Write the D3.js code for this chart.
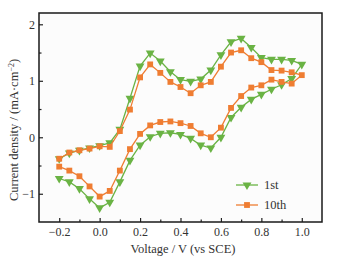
<!DOCTYPE html>
<html>
<head>
<meta charset="utf-8">
<script src="https://cdn.jsdelivr.net/npm/d3@7"></script>
<style>
  body { margin: 0; background: #fff; }
  text { font-family: "Liberation Serif", "DejaVu Serif", serif; }
</style>
</head>
<body>
<svg id="canvas"></svg>
<script>
// scan potentials: forward -0.2 -> 1.0, then back 0.95 -> -0.2
const voltage = [-0.2, -0.15, -0.1, -0.05, 0, 0.05, 0.1, 0.15, 0.2, 0.25, 0.3, 0.35, 0.4, 0.45, 0.5, 0.55, 0.6, 0.65, 0.7, 0.75, 0.8, 0.85, 0.9, 0.95, 1.0,
                 0.95, 0.9, 0.85, 0.8, 0.75, 0.7, 0.65, 0.6, 0.55, 0.5, 0.45, 0.4, 0.35, 0.3, 0.25, 0.2, 0.15, 0.1, 0.05, 0, -0.05, -0.1, -0.15, -0.2];

const first = [-0.38, -0.28, -0.23, -0.19, -0.15, -0.1, 0.14, 0.69, 1.26, 1.49, 1.35, 1.16, 1.02, 0.99, 1.03, 1.19, 1.46, 1.69, 1.75, 1.59, 1.41, 1.38, 1.38, 1.36, 1.29,
               1.04, 0.93, 0.85, 0.76, 0.67, 0.53, 0.35, 0.0, -0.19, -0.14, -0.02, 0.05, 0.08, 0.07, 0.01, -0.14, -0.41, -0.79, -1.15, -1.25, -1.09, -0.91, -0.79, -0.73];

const tenth = [-0.38, -0.27, -0.23, -0.2, -0.16, -0.17, 0.11, 0.49, 1.06, 1.29, 1.14, 0.98, 0.89, 0.78, 0.92, 0.98, 1.25, 1.5, 1.54, 1.4, 1.33, 1.19, 1.18, 1.15, 1.1,
               0.95, 0.98, 1.02, 0.92, 0.88, 0.73, 0.52, 0.17, 0.0, 0.07, 0.2, 0.25, 0.28, 0.27, 0.21, 0.06, -0.21, -0.59, -0.95, -1.05, -0.87, -0.69, -0.59, -0.52];

const xTicks = [-0.2, 0.0, 0.2, 0.4, 0.6, 0.8, 1.0];
const yTicks = [-1, 0, 1, 2];

const series = [
    { name: "1st", values: first, color: "#6ab344", symbol: "tri" },
    { name: "10th", values: tenth, color: "#ef7d32", symbol: "sq" }
];

const width = 341;
const height = 265;
const margin = { left: 39, right: 19, top: 13, bottom: 43 };

const canvas = d3.select("#canvas")
    .attr("width", width)
    .attr("height", height);

const xScale = d3.scaleLinear()
    .domain([-0.3, 1.1])
    .range([margin.left, width - margin.right]);
const yScale = d3.scaleLinear()
    .domain([-1.5, 2.2])
    .range([height - margin.bottom, margin.top]);

const x0 = margin.left, x1 = width - margin.right;
const y0 = height - margin.bottom, y1 = margin.top;

// plot background
canvas.append("rect")
    .attr("x", x0).attr("y", y1)
    .attr("width", x1 - x0).attr("height", y0 - y1)
    .attr("fill", "#fcfcfc");

// ticks inward
const xAxis = d3.axisTop(xScale)
    .tickValues(xTicks)
    .tickSize(4)
    .tickFormat(d3.format(".1f"));
const xMinor = d3.axisTop(xScale)
    .tickValues([-0.1, 0.1, 0.3, 0.5, 0.7, 0.9])
    .tickSize(2.5)
    .tickFormat("");
const yAxis = d3.axisRight(yScale)
    .tickValues(yTicks)
    .tickSize(4)
    .tickFormat(d3.format("d"));
const yMinor = d3.axisRight(yScale)
    .tickValues([-0.5, 0.5, 1.5])
    .tickSize(2.5)
    .tickFormat("");

function styleAxis(g) {
    g.select(".domain").remove();
    g.selectAll(".tick line").attr("stroke", "#222").attr("stroke-width", 1.2);
}

canvas.append("g").attr("transform", `translate(0, ${y0})`).call(xAxis).call(styleAxis)
    .selectAll("text")
    .attr("y", 5).attr("dy", "0.71em")
    .attr("font-size", 12).attr("fill", "#333");
canvas.append("g").attr("transform", `translate(0, ${y0})`).call(xMinor).call(styleAxis);
canvas.append("g").attr("transform", `translate(${x0}, 0)`).call(yAxis).call(styleAxis)
    .selectAll("text")
    .attr("x", -4).attr("text-anchor", "end")
    .attr("font-size", 12).attr("fill", "#333");
canvas.append("g").attr("transform", `translate(${x0}, 0)`).call(yMinor).call(styleAxis);

// frame
canvas.append("rect")
    .attr("x", x0).attr("y", y1)
    .attr("width", x1 - x0).attr("height", y0 - y1)
    .attr("fill", "none")
    .attr("stroke", "#1a1a1a")
    .attr("stroke-width", 1.5);

const line = d3.line()
    .x((d, i) => xScale(voltage[i]))
    .y(d => yScale(d));

const tri = d3.symbol().type(d3.symbolTriangle).size(34);
const sq = d3.symbol().type(d3.symbolSquare).size(34);

series.forEach(s => {
    canvas.append("path")
        .datum(s.values)
        .attr("d", line)
        .attr("fill", "none")
        .attr("stroke", s.color)
        .attr("stroke-width", 1.3);

    canvas.append("g")
        .selectAll("path")
        .data(s.values)
        .enter()
        .append("path")
        .attr("transform", (d, i) => `translate(${xScale(voltage[i])}, ${yScale(d)})` + (s.symbol === "tri" ? " rotate(180)" : ""))
        .attr("d", s.symbol === "tri" ? tri() : sq())
        .attr("fill", s.color);
});

// legend
const legend = canvas.append("g");
series.forEach((s, i) => {
    const ly = 185 + i * 20;
    legend.append("line")
        .attr("x1", 236).attr("x2", 258)
        .attr("y1", ly).attr("y2", ly)
        .attr("stroke", s.color).attr("stroke-width", 1.3);
    legend.append("path")
        .attr("transform", `translate(247, ${ly})` + (s.symbol === "tri" ? " rotate(180)" : ""))
        .attr("d", s.symbol === "tri" ? tri() : sq())
        .attr("fill", s.color);
    legend.append("text")
        .attr("x", 264).attr("y", ly)
        .attr("dy", "0.35em")
        .attr("font-size", 12.5)
        .attr("fill", "#333")
        .text(s.name);
});

// axis titles
canvas.append("text")
    .attr("x", 183)
    .attr("y", 253)
    .attr("text-anchor", "middle")
    .attr("font-size", 12.5)
    .attr("fill", "#333")
    .text("Voltage / V (vs SCE)");

canvas.append("text")
    .attr("transform", `translate(18, 130) rotate(-90)`)
    .attr("text-anchor", "middle")
    .attr("font-size", 12.5)
    .attr("fill", "#333")
    .html("Current density / (mA·cm<tspan dy='-4' font-size='8'>−2</tspan><tspan dy='4'>)</tspan>");
</script>
</body>
</html>
